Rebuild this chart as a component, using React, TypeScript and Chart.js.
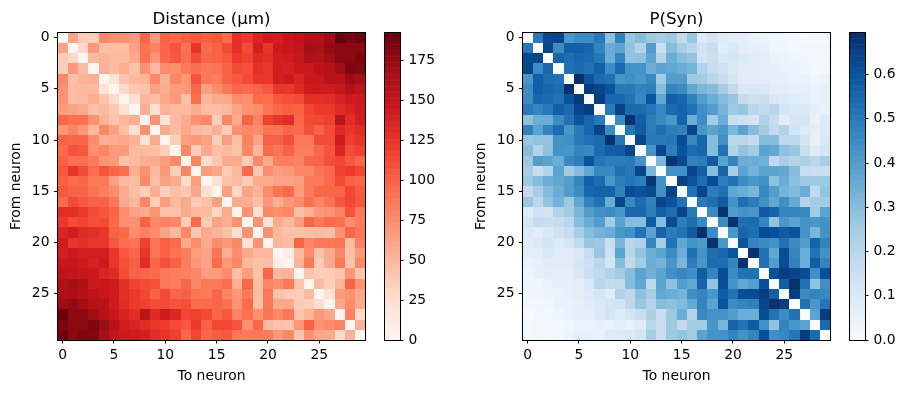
import React, { useEffect, useRef } from 'react';
import { Chart, registerables } from 'chart.js';

Chart.register(...registerables);

const FONT = '"DejaVu Sans", sans-serif';

// Pairwise distance between neurons (µm), row = from neuron, column = to neuron
const distanceMatrix: number[][] = [
  [0,62,38,35,78,72,72,66,98,68,100,96,102,106,102,105,95,128,122,135,142,140,148,152,162,162,172,192.5,184,190],
  [62,0,30,68,45,47,47,62,92,82,98,108,92,125,95,100,112,128,112,140,125,144,146,150,168,165,175,178,178,178],
  [38,30,0,48,52,48,48,58,92,70,98,106,94,112,98,100,105,122,116,132,128,140,142,148,162,160,170,178,178,183],
  [35,68,48,0,55,48,56,44,72,50,76,73,86,94,88,90,100,112,110,128,125,140,138,145,145,154,158,170,183,182],
  [78,45,52,55,0,20,42,48,52,78,55,80,70,108,88,84,100,106,112,124,124,140,143,136,146,148,158,158,172,168],
  [72,47,48,48,20,0,28,40,42,63,57,67,68,98,64,76,88,98,96,100,106,124,123,132,142,143,142,148,160,152],
  [72,47,48,56,42,28,0,24,50,46,60,68,44,94,50,58,58,76,73,96,94,106,110,112,128,128,130,138,142,144],
  [66,62,58,44,48,40,24,0,55,24,53,48,48,57,47,46,50,62,72,76,90,98,102,100,116,122,122,130,136,142],
  [98,92,92,72,52,42,50,55,0,72,22,48,57,72,77,36,80,58,100,82,118,124,130,98,112,114,118,155,130,140],
  [68,82,70,50,78,63,46,24,72,0,58,47,58,48,46,55,36,72,78,76,90,90,98,96,110,100,112,132,124,130],
  [100,98,98,76,55,57,60,53,22,58,0,36,66,69,63,35,66,45,82,62,102,100,110,88,88,112,112,143,120,125],
  [96,108,106,73,80,67,68,48,48,47,36,0,78,36,58,46,48,44,78,50,96,90,100,84,84,98,108,134,112,118],
  [102,92,94,86,70,68,44,48,57,58,66,78,0,80,26,40,58,58,38,78,58,84,84,82,98,100,110,115,106,98],
  [106,125,112,94,108,98,94,57,72,48,69,36,80,0,66,60,38,50,96,40,76,66,68,78,78,90,96,118,122,114],
  [102,95,98,88,88,64,50,47,77,46,63,58,26,66,0,24,45,48,38,58,58,62,62,66,88,88,96,112,100,98],
  [105,100,100,90,84,76,58,46,36,55,35,46,40,60,24,0,65,30,62,52,76,90,96,66,88,98,98,98,114,104],
  [95,112,105,100,100,88,58,50,80,36,66,48,58,38,45,65,0,58,56,45,70,56,68,76,94,80,92,106,114,106],
  [128,128,122,112,106,98,76,62,58,72,45,44,58,50,48,30,58,0,72,24,78,76,78,46,55,68,72,82,108,88],
  [122,112,116,110,112,96,73,72,100,78,82,78,38,96,38,62,56,72,0,72,20,58,50,66,98,88,96,92,74,86],
  [135,140,132,128,124,100,96,76,82,76,62,50,78,40,58,52,45,24,72,0,72,50,44,44,46,47,46,72,98,88],
  [142,125,128,125,124,106,94,90,118,90,102,96,58,76,58,76,70,78,20,72,0,50,47,98,80,88,88,90,48,84],
  [140,144,140,140,140,124,106,98,124,90,100,90,84,66,62,90,56,76,58,50,50,0,10,50,76,44,58,78,44,68],
  [148,146,142,138,143,123,110,102,130,98,110,100,84,68,62,96,68,78,50,44,47,10,0,52,88,38,58,88,42,78],
  [152,150,148,145,136,132,112,100,98,96,88,84,82,78,66,66,76,46,66,44,98,50,52,0,42,36,38,42,70,42],
  [162,168,162,145,146,142,128,116,112,110,88,84,98,78,88,88,94,55,98,46,80,76,88,42,0,48,36,52,100,72],
  [162,165,160,154,148,143,128,122,114,100,112,98,100,90,88,98,80,68,88,47,88,44,38,36,48,0,24,68,72,60],
  [172,175,170,158,158,142,130,122,118,112,112,108,110,96,96,98,92,72,96,46,88,58,58,38,36,24,0,60,76,58],
  [192.5,178,178,170,158,148,138,130,155,132,143,134,115,118,112,98,106,82,92,72,90,78,88,42,52,68,60,0,82,28],
  [184,178,178,183,172,160,142,136,130,124,120,112,106,122,100,114,114,108,74,98,48,44,42,70,100,72,76,82,0,54],
  [190,178,183,182,168,152,144,142,140,130,125,118,98,114,98,104,106,88,86,88,84,68,78,42,72,60,58,28,54,0],
];

// Synapse probability, row = from neuron, column = to neuron
const synapseProbMatrix: number[][] = [
  [0,0.5,0.63,0.64,0.42,0.45,0.45,0.5,0.29,0.48,0.27,0.3,0.26,0.24,0.26,0.18,0.27,0.09,0.12,0.09,0.07,0.07,0.05,0.04,0.03,0.025,0.02,0.005,0.01,0.01],
  [0.5,0,0.64,0.45,0.57,0.57,0.55,0.47,0.35,0.38,0.28,0.22,0.4,0.16,0.3,0.24,0.2,0.14,0.17,0.07,0.1,0.07,0.06,0.06,0.03,0.03,0.02,0.02,0.02,0.02],
  [0.63,0.64,0,0.55,0.53,0.55,0.54,0.5,0.35,0.47,0.28,0.29,0.38,0.21,0.35,0.3,0.28,0.13,0.16,0.1,0.12,0.1,0.08,0.07,0.05,0.04,0.03,0.02,0.02,0.015],
  [0.64,0.45,0.55,0,0.52,0.54,0.52,0.57,0.45,0.54,0.43,0.43,0.35,0.38,0.37,0.35,0.33,0.22,0.17,0.14,0.1,0.08,0.08,0.07,0.06,0.05,0.05,0.03,0.02,0.02],
  [0.42,0.57,0.53,0.52,0,0.695,0.6,0.54,0.52,0.42,0.44,0.42,0.46,0.25,0.4,0.4,0.26,0.25,0.2,0.17,0.12,0.08,0.08,0.07,0.06,0.06,0.05,0.05,0.03,0.04],
  [0.45,0.57,0.55,0.54,0.695,0,0.67,0.64,0.6,0.5,0.5,0.47,0.49,0.3,0.47,0.45,0.37,0.32,0.3,0.24,0.18,0.1,0.11,0.1,0.07,0.07,0.06,0.06,0.05,0.06],
  [0.45,0.55,0.54,0.52,0.6,0.67,0,0.66,0.55,0.55,0.52,0.46,0.6,0.37,0.57,0.55,0.48,0.4,0.35,0.3,0.27,0.17,0.15,0.16,0.11,0.09,0.08,0.07,0.05,0.06],
  [0.5,0.47,0.5,0.57,0.54,0.64,0.66,0,0.5,0.65,0.54,0.54,0.51,0.46,0.54,0.56,0.52,0.44,0.4,0.33,0.26,0.27,0.2,0.18,0.2,0.12,0.1,0.1,0.06,0.05],
  [0.29,0.35,0.35,0.45,0.52,0.6,0.55,0.5,0,0.45,0.69,0.57,0.49,0.46,0.42,0.56,0.35,0.45,0.25,0.35,0.16,0.14,0.12,0.22,0.17,0.08,0.12,0.12,0.05,0.09],
  [0.48,0.38,0.47,0.54,0.42,0.5,0.55,0.65,0.45,0,0.51,0.58,0.49,0.53,0.49,0.48,0.64,0.42,0.38,0.42,0.32,0.38,0.3,0.25,0.18,0.22,0.13,0.09,0.07,0.09],
  [0.27,0.28,0.28,0.43,0.44,0.5,0.52,0.54,0.69,0.51,0,0.64,0.5,0.5,0.51,0.62,0.46,0.55,0.3,0.44,0.2,0.2,0.18,0.3,0.3,0.19,0.19,0.12,0.05,0.1],
  [0.3,0.22,0.29,0.43,0.42,0.47,0.46,0.54,0.57,0.58,0.64,0,0.43,0.64,0.49,0.6,0.54,0.55,0.3,0.52,0.22,0.28,0.25,0.38,0.37,0.29,0.27,0.16,0.08,0.12],
  [0.26,0.4,0.38,0.35,0.46,0.49,0.6,0.51,0.49,0.49,0.5,0.43,0,0.32,0.68,0.63,0.48,0.49,0.58,0.38,0.47,0.35,0.35,0.34,0.19,0.24,0.21,0.23,0.2,0.24],
  [0.24,0.16,0.21,0.38,0.25,0.3,0.37,0.46,0.46,0.53,0.5,0.64,0.32,0,0.44,0.44,0.64,0.57,0.3,0.56,0.24,0.38,0.33,0.38,0.38,0.37,0.3,0.17,0.16,0.16],
  [0.26,0.3,0.35,0.37,0.4,0.47,0.57,0.54,0.42,0.49,0.51,0.49,0.68,0.44,0,0.65,0.6,0.53,0.62,0.49,0.52,0.45,0.42,0.44,0.29,0.35,0.29,0.26,0.26,0.26],
  [0.18,0.24,0.3,0.35,0.4,0.45,0.55,0.56,0.56,0.48,0.62,0.6,0.63,0.44,0.65,0,0.52,0.64,0.49,0.52,0.37,0.35,0.32,0.46,0.4,0.33,0.31,0.35,0.18,0.28],
  [0.27,0.2,0.28,0.33,0.26,0.37,0.48,0.52,0.35,0.64,0.46,0.54,0.48,0.64,0.6,0.52,0,0.5,0.53,0.58,0.43,0.53,0.49,0.44,0.37,0.44,0.36,0.21,0.25,0.25],
  [0.09,0.14,0.13,0.22,0.25,0.32,0.4,0.44,0.45,0.42,0.55,0.55,0.49,0.57,0.53,0.64,0.5,0,0.46,0.69,0.41,0.43,0.42,0.58,0.56,0.47,0.47,0.46,0.25,0.38],
  [0.12,0.17,0.16,0.17,0.2,0.3,0.35,0.4,0.25,0.38,0.3,0.3,0.58,0.3,0.62,0.49,0.53,0.46,0,0.45,0.69,0.53,0.54,0.47,0.28,0.42,0.38,0.43,0.42,0.43],
  [0.09,0.07,0.1,0.14,0.17,0.24,0.3,0.33,0.35,0.42,0.44,0.52,0.38,0.56,0.49,0.52,0.58,0.69,0.45,0,0.42,0.55,0.53,0.62,0.61,0.58,0.6,0.43,0.32,0.43],
  [0.07,0.1,0.12,0.1,0.12,0.18,0.27,0.26,0.16,0.32,0.2,0.22,0.47,0.24,0.52,0.37,0.43,0.41,0.69,0.42,0,0.6,0.47,0.45,0.43,0.52,0.45,0.4,0.56,0.47],
  [0.07,0.07,0.1,0.08,0.08,0.1,0.17,0.27,0.14,0.38,0.2,0.28,0.35,0.38,0.45,0.35,0.53,0.43,0.53,0.55,0.6,0,0.69,0.52,0.37,0.62,0.47,0.35,0.52,0.43],
  [0.05,0.06,0.08,0.08,0.08,0.11,0.15,0.2,0.12,0.3,0.18,0.25,0.35,0.33,0.42,0.32,0.49,0.42,0.54,0.53,0.47,0.69,0,0.52,0.4,0.62,0.48,0.35,0.58,0.47],
  [0.04,0.06,0.07,0.07,0.07,0.1,0.16,0.18,0.22,0.25,0.3,0.38,0.34,0.38,0.44,0.46,0.44,0.58,0.47,0.62,0.45,0.52,0.52,0,0.61,0.66,0.64,0.62,0.44,0.61],
  [0.03,0.03,0.05,0.06,0.06,0.07,0.11,0.2,0.17,0.18,0.3,0.37,0.19,0.38,0.29,0.4,0.37,0.56,0.28,0.61,0.43,0.37,0.4,0.61,0,0.57,0.69,0.52,0.28,0.44],
  [0.025,0.03,0.04,0.05,0.06,0.07,0.09,0.12,0.08,0.22,0.19,0.29,0.24,0.37,0.35,0.33,0.44,0.47,0.42,0.58,0.52,0.62,0.62,0.66,0.57,0,0.66,0.45,0.47,0.46],
  [0.02,0.02,0.03,0.05,0.05,0.06,0.08,0.1,0.12,0.13,0.19,0.27,0.21,0.3,0.29,0.31,0.36,0.47,0.38,0.6,0.45,0.47,0.48,0.64,0.69,0.66,0,0.52,0.42,0.51],
  [0.005,0.02,0.02,0.03,0.05,0.06,0.07,0.1,0.12,0.09,0.12,0.16,0.23,0.17,0.26,0.35,0.21,0.46,0.43,0.43,0.4,0.35,0.35,0.62,0.52,0.45,0.52,0,0.38,0.66],
  [0.01,0.02,0.02,0.02,0.03,0.05,0.05,0.06,0.05,0.07,0.05,0.08,0.2,0.16,0.26,0.18,0.25,0.25,0.42,0.32,0.56,0.52,0.58,0.44,0.28,0.47,0.42,0.38,0,0.54],
  [0.01,0.02,0.015,0.02,0.04,0.06,0.06,0.05,0.09,0.09,0.1,0.12,0.24,0.16,0.26,0.28,0.25,0.38,0.43,0.43,0.47,0.43,0.47,0.61,0.44,0.46,0.51,0.66,0.54,0],
];

const neuronTicks = [0, 5, 10, 15, 20, 25];
const distanceBarTicks = [0, 25, 50, 75, 100, 125, 150, 175];
const probBarTicks = [0, 0.1, 0.2, 0.3, 0.4, 0.5, 0.6];

const REDS = ['#fff5f0', '#fee0d2', '#fcbba1', '#fc9272', '#fb6a4a', '#ef3b2c', '#cb181d', '#a50f15', '#67000d'];
const BLUES = ['#f7fbff', '#deebf7', '#c6dbef', '#9ecae1', '#6baed6', '#4292c6', '#2171b5', '#08519c', '#08306b'];

function hexToRgb(h: string) {
  return [parseInt(h.slice(1, 3), 16), parseInt(h.slice(3, 5), 16), parseInt(h.slice(5, 7), 16)];
}

function colorAt(stops: string[], t: number) {
  const tt = Math.max(0, Math.min(1, t));
  const n = stops.length - 1;
  const pos = tt * n;
  const i = Math.min(Math.floor(pos), n - 1);
  const f = pos - i;
  const a = hexToRgb(stops[i]);
  const b = hexToRgb(stops[i + 1]);
  const c = a.map((v, k) => Math.round(v + (b[k] - v) * f));
  return `rgb(${c[0]},${c[1]},${c[2]})`;
}

function matrixMax(m: number[][]) {
  let mx = -Infinity;
  m.forEach((r) => r.forEach((v) => { if (v > mx) mx = v; }));
  return mx;
}

const heatmapPlugin = {
  id: 'heatmapCells',
  beforeDatasetsDraw(chart: any, _args: any, opts: any) {
    const { ctx } = chart;
    const xs = chart.scales.x;
    const ys = chart.scales.y;
    const data = chart.data.datasets[0].data as any[];
    ctx.save();
    for (const p of data) {
      const x0 = Math.round(xs.getPixelForValue(p.x - 0.5));
      const x1 = Math.round(xs.getPixelForValue(p.x + 0.5));
      const y0 = Math.round(ys.getPixelForValue(p.y - 0.5));
      const y1 = Math.round(ys.getPixelForValue(p.y + 0.5));
      ctx.fillStyle = colorAt(opts.cmap, p.v / opts.vmax);
      ctx.fillRect(Math.min(x0, x1), Math.min(y0, y1), Math.abs(x1 - x0), Math.abs(y1 - y0));
    }
    ctx.restore();
  },
  afterDraw(chart: any, _args: any, opts: any) {
    const { ctx, chartArea: a } = chart;
    ctx.save();
    ctx.strokeStyle = '#000';
    ctx.lineWidth = 1;
    const l = Math.floor(a.left) + 0.5;
    const t = Math.floor(a.top) + 0.5;
    const r = Math.floor(a.right) + 0.5;
    const b = Math.floor(a.bottom) + 0.5;
    ctx.strokeRect(l, t, r - l, b - t);
    if (opts.title) {
      ctx.fillStyle = '#000';
      ctx.font = `16.7px ${FONT}`;
      ctx.textAlign = 'center';
      ctx.textBaseline = 'alphabetic';
      ctx.fillText(opts.title, (a.left + a.right) / 2, a.top - 8.3);
    }
    ctx.restore();
  },
};

const colorbarPlugin = {
  id: 'colorbarFill',
  beforeDatasetsDraw(chart: any, _args: any, opts: any) {
    const { ctx, chartArea: a } = chart;
    const ys = chart.scales.y;
    const steps = 256;
    ctx.save();
    for (let i = 0; i < steps; i++) {
      const v0 = (opts.vmax * i) / steps;
      const v1 = (opts.vmax * (i + 1)) / steps;
      const y0 = ys.getPixelForValue(v0);
      const y1 = ys.getPixelForValue(v1);
      ctx.fillStyle = colorAt(opts.cmap, (i + 0.5) / steps);
      ctx.fillRect(a.left, Math.min(y0, y1) - 0.3, a.right - a.left, Math.abs(y1 - y0) + 0.6);
    }
    ctx.strokeStyle = '#000';
    ctx.lineWidth = 1;
    const l = Math.floor(a.left) + 0.5;
    const t = Math.floor(a.top) + 0.5;
    const r = Math.floor(a.right) + 0.5;
    const b = Math.floor(a.bottom) + 0.5;
    ctx.strokeRect(l, t, r - l, b - t);
    ctx.restore();
  },
};

const tickFont = { size: 13.9, family: FONT };

function heatmapConfig(matrix: number[][], cmap: string[], title: string, padLeft: number, padRight: number): any {
  const cells: any[] = [];
  matrix.forEach((row, r) => row.forEach((v, c) => cells.push({ x: c, y: r, v })));
  const vmax = matrixMax(matrix);
  return {
    type: 'scatter',
    data: { datasets: [{ data: cells, pointRadius: 0, pointHoverRadius: 0 }] },
    options: {
      animation: false,
      responsive: false,
      events: [],
      layout: { padding: { left: padLeft, top: 32.5, right: padRight, bottom: 8.7 } },
      plugins: {
        legend: { display: false },
        tooltip: { enabled: false },
        title: { display: false },
        heatmapCells: { cmap, vmax, title },
      },
      scales: {
        x: {
          type: 'linear',
          position: 'bottom',
          min: -0.5,
          max: 29.5,
          afterBuildTicks: (s: any) => { s.ticks = neuronTicks.map((v) => ({ value: v })); },
          afterFit: (s: any) => { s.height = 44.3; },
          ticks: { color: '#000', font: tickFont, padding: 4, maxRotation: 0, autoSkip: false, callback: (v: any) => String(v) },
          grid: { drawOnChartArea: false, drawTicks: true, tickLength: 3.5, color: '#000', lineWidth: 1 },
          border: { display: true, color: '#000', width: 1 },
          title: { display: true, text: 'To neuron', color: '#000', font: tickFont, padding: { top: 0, bottom: 0 } },
        },
        y: {
          type: 'linear',
          position: 'left',
          reverse: true,
          min: -0.5,
          max: 29.5,
          afterBuildTicks: (s: any) => { s.ticks = neuronTicks.map((v) => ({ value: v })); },
          afterFit: (s: any) => { s.width = 57.5; },
          ticks: { color: '#000', font: tickFont, padding: 4.5, autoSkip: false, callback: (v: any) => String(v) },
          grid: { drawOnChartArea: false, drawTicks: true, tickLength: 3.5, color: '#000', lineWidth: 1 },
          border: { display: true, color: '#000', width: 1 },
          title: { display: true, text: 'From neuron', color: '#000', font: tickFont, padding: { top: 7.7, bottom: 0 } },
        },
      },
    },
    plugins: [heatmapPlugin],
  };
}

function colorbarConfig(matrix: number[][], cmap: string[], ticks: number[], fmt: (v: number) => string, padLeft: number, axisWidth: number): any {
  const vmax = matrixMax(matrix);
  return {
    type: 'scatter',
    data: { datasets: [{ data: [{ x: 0, y: 0 }, { x: 1, y: vmax }], pointRadius: 0, pointHoverRadius: 0 }] },
    options: {
      animation: false,
      responsive: false,
      events: [],
      layout: { padding: { left: padLeft, top: 32.5, right: 0, bottom: 53 } },
      plugins: {
        legend: { display: false },
        tooltip: { enabled: false },
        title: { display: false },
        colorbarFill: { cmap, vmax },
      },
      scales: {
        x: { type: 'linear', display: false, min: 0, max: 1 },
        y: {
          type: 'linear',
          position: 'right',
          min: 0,
          max: vmax,
          afterBuildTicks: (s: any) => { s.ticks = ticks.map((v) => ({ value: v })); },
          afterFit: (s: any) => { s.width = axisWidth; },
          ticks: { color: '#000', font: tickFont, padding: 5, autoSkip: false, callback: (v: any) => fmt(Number(v)) },
          grid: { drawOnChartArea: false, drawTicks: true, tickLength: 3.5, color: '#000', lineWidth: 1 },
          border: { display: true, color: '#000', width: 1 },
        },
      },
    },
    plugins: [colorbarPlugin],
  };
}

function ChartCanvas({ config, left, width }: { config: any; left: number; width: number }) {
  const ref = useRef<HTMLCanvasElement | null>(null);
  useEffect(() => {
    if (!ref.current) return;
    const chart = new Chart(ref.current, config);
    return () => chart.destroy();
  }, []);
  return (
    <canvas
      ref={ref}
      width={width}
      height={393}
      style={{ position: 'absolute', left, top: 0, width, height: 393 }}
    />
  );
}

export default function App() {
  return (
    <div style={{ position: 'absolute', left: 0, top: 0, width: 906, height: 393, background: '#fff', overflow: 'hidden' }}>
      <ChartCanvas left={0} width={380} config={heatmapConfig(distanceMatrix, REDS, 'Distance (μm)', 0, 14.5)} />
      <ChartCanvas left={374} width={80} config={colorbarConfig(distanceMatrix, REDS, distanceBarTicks, (v) => String(v), 10.5, 54)} />
      <ChartCanvas left={453} width={392} config={heatmapConfig(synapseProbMatrix, BLUES, 'P(Syn)', 12, 14.5)} />
      <ChartCanvas left={838} width={68} config={colorbarConfig(synapseProbMatrix, BLUES, probBarTicks, (v) => v.toFixed(1), 11.5, 41)} />
    </div>
  );
}
